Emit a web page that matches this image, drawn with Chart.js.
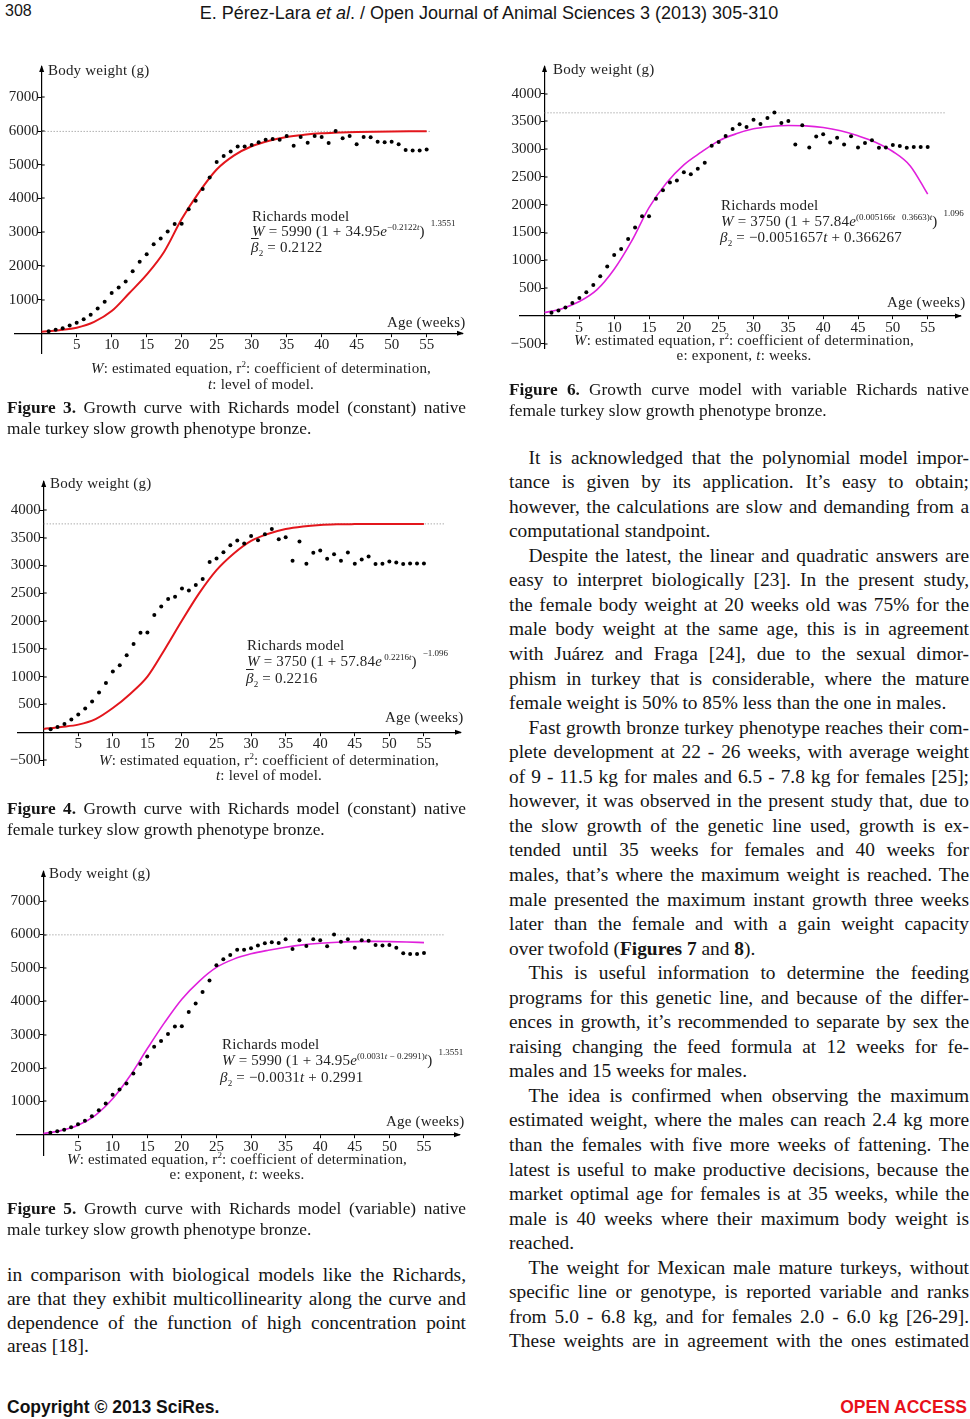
<!DOCTYPE html>
<html>
<head>
<meta charset="utf-8">
<title>Growth curves - Richards model</title>
<script src="https://cdn.jsdelivr.net/npm/chart.js@4.4.1/dist/chart.umd.min.js"></script>
<style>
  body { margin: 0; width: 970px; height: 1419px; position: relative; overflow: hidden; background: #fff;
         font-family: "Liberation Serif", "Times New Roman", serif; color: #151515; }
  canvas { position: absolute; }
  .sans { position: absolute; font-family: "Liberation Sans", Arial, sans-serif; white-space: nowrap; }
  .ln { position: absolute; text-align: justify; text-align-last: justify; box-sizing: border-box; }
  .ln.last { text-align-last: left; }
  .fig { position: absolute; font-size: 15px; line-height: 16px; white-space: nowrap; color: #222; letter-spacing: 0.2px; }
  .fig.c { text-align: center; width: 440px; }
  .s1 { font-size: 9px; position: relative; top: -6px; letter-spacing: 0; }
  .s2 { font-size: 9px; position: relative; top: -10px; margin-left: 6px; letter-spacing: 0; }
  .ob { text-decoration: overline; font-style: italic; }
  .sub { font-size: 9px; position: relative; top: 4px; }
</style>
</head>
<body>

<div class="sans" style="left:5px;top:2px;font-size:16px;">308</div>
<div class="sans" style="left:189px;top:3px;width:600px;text-align:center;font-size:18px;">E. Pérez-Lara <i>et al</i>. / Open Journal of Animal Sciences 3 (2013) 305-310</div>

<!-- Figure 3 -->
<canvas id="fig3" width="470" height="315" style="left:0;top:55px"></canvas>
<div class="fig" style="left:48px;top:62px">Body weight (g)</div>
<div class="fig" style="left:387px;top:314px">Age (weeks)</div>
<div class="fig" style="left:252px;top:208px">Richards model</div>
<div class="fig" style="left:252px;top:223px"><i>W</i> = 5990 (1 + 34.95<i>e</i><span class="s1">−0.2122<i>t</i></span>)<span class="s2">1.3551</span></div>
<div class="fig" style="left:251px;top:239px"><span class="ob">β</span><span class="sub">2</span> = 0.2122</div>
<div class="fig c" style="left:41px;top:360px"><i>W</i>: estimated equation, r<span class="s1">2</span>: coefficient of determination,</div>
<div class="fig c" style="left:41px;top:376px"><i>t</i>: level of model.</div>

<!-- Figure 4 -->
<canvas id="fig4" width="470" height="310" style="left:0;top:470px"></canvas>
<div class="fig" style="left:50px;top:475px">Body weight (g)</div>
<div class="fig" style="left:385px;top:709px">Age (weeks)</div>
<div class="fig" style="left:247px;top:637px">Richards model</div>
<div class="fig" style="left:247px;top:653px"><i>W</i> = 3750 (1 + 57.84<i>e</i><span class="s1"> 0.2216<i>t</i></span>)<span class="s2">−1.096</span></div>
<div class="fig" style="left:246px;top:670px"><span class="ob">β</span><span class="sub">2</span> = 0.2216</div>
<div class="fig c" style="left:49px;top:752px"><i>W</i>: estimated equation, r<span class="s1">2</span>: coefficient of determination,</div>
<div class="fig c" style="left:49px;top:767px"><i>t</i>: level of model.</div>

<!-- Figure 5 -->
<canvas id="fig5" width="470" height="310" style="left:0;top:860px"></canvas>
<div class="fig" style="left:49px;top:865px">Body weight (g)</div>
<div class="fig" style="left:386px;top:1113px">Age (weeks)</div>
<div class="fig" style="left:222px;top:1036px">Richards model</div>
<div class="fig" style="left:222px;top:1052px"><i>W</i> = 5990 (1 + 34.95<i>e</i><span class="s1">(0.0031<i>t</i> − 0.2991)<i>t</i></span>)<span class="s2">1.3551</span></div>
<div class="fig" style="left:220px;top:1069px"><i>β</i><span class="sub">2</span> = −0.0031<i>t</i> + 0.2991</div>
<div class="fig c" style="left:17px;top:1151px"><i>W</i>: estimated equation, r<span class="s1">2</span>: coefficient of determination,</div>
<div class="fig c" style="left:17px;top:1166px">e: exponent, <i>t</i>: weeks.</div>

<!-- Figure 6 -->
<canvas id="fig6" width="480" height="305" style="left:490px;top:55px"></canvas>
<div class="fig" style="left:553px;top:61px">Body weight (g)</div>
<div class="fig" style="left:887px;top:294px">Age (weeks)</div>
<div class="fig" style="left:721px;top:197px">Richards model</div>
<div class="fig" style="left:721px;top:213px"><i>W</i> = 3750 (1 + 57.84<i>e</i><span class="s1">(0.005166<i>t</i> &nbsp; 0.3663)<i>t</i></span>)<span class="s2">1.096</span></div>
<div class="fig" style="left:720px;top:229px"><i>β</i><span class="sub">2</span> = −0.0051657<i>t</i> + 0.366267</div>
<div class="fig c" style="left:524px;top:332px"><i>W</i>: estimated equation, r<span class="s1">2</span>: coefficient of determination,</div>
<div class="fig c" style="left:524px;top:347px">e: exponent, <i>t</i>: weeks.</div>

<div class="sans" style="left:7px;top:1397px;font-size:17.5px;font-weight:bold;color:#111;">Copyright © 2013 SciRes.</div>
<div class="sans" style="right:3px;top:1397px;font-size:17.5px;font-weight:bold;color:#e8101a;">OPEN ACCESS</div>

<div id="text"></div>

<script>
// ages (weeks) of the weighings
const weeks = [1, 2, 3, 4, 5, 6, 7, 8, 9, 10, 11, 12, 13, 14, 15, 16, 17, 18, 19, 20,
  21, 22, 23, 24, 25, 26, 27, 28, 29, 30, 31, 32, 33, 34, 35, 36, 37, 38, 39, 40,
  41, 42, 43, 44, 45, 46, 47, 48, 49, 50, 51, 52, 53, 54, 55];

// observed body weight (g)
const maleWeight = [65, 105, 150, 230, 315, 420, 555, 735, 940, 1200, 1360, 1540, 1840, 2120, 2345,
  2640, 2810, 3020, 3245, 3250, 3680, 3935, 4280, 4620, 5080, 5260, 5390, 5545, 5545, 5590,
  5670, 5740, 5765, 5745, 5855, 5565, 5825, 5655, 5855, 5825, 5645, 6000, 5785, 5855, 5605,
  5825, 5815, 5685, 5670, 5685, 5605, 5440, 5420, 5420, 5450];
const femaleWeight = [55, 95, 150, 230, 320, 425, 555, 715, 888, 1095, 1205, 1385, 1590, 1792, 1794,
  2110, 2262, 2400, 2437, 2585, 2550, 2650, 2758, 3062, 3128, 3240, 3365, 3450, 3398, 3532,
  3456, 3562, 3660, 3472, 3508, 3085, 3432, 3032, 3230, 3270, 3122, 3205, 3086, 3235, 3032,
  3110, 3162, 3026, 3032, 3074, 3056, 3026, 3038, 3038, 3038];

// fitted Richards curves read at these ages
const curveWeeks = [0, 2.5, 5, 7.5, 10, 12.5, 15, 17.5, 20, 22.5, 25, 27.5, 30, 32.5, 35, 37.5,
  40, 42.5, 45, 47.5, 50, 52.5, 55];
const maleConst = [50, 95, 168, 340, 660, 1190, 1740, 2420, 3390, 4190, 4860, 5280, 5550, 5715,
  5825, 5890, 5935, 5955, 5972, 5982, 5988, 5992, 5994];
const femaleConst = [60, 95, 137, 236, 435, 690, 1000, 1490, 2010, 2503, 2917, 3218, 3445, 3572,
  3658, 3705, 3731, 3742, 3746, 3748, 3750, 3750, 3750];
const maleVar = [40, 125, 287, 585, 1080, 1760, 2577, 3360, 4063, 4599, 5014, 5263, 5421, 5530,
  5620, 5690, 5738, 5770, 5788, 5795, 5788, 5775, 5758];
const femaleVar = [60, 130, 258, 468, 840, 1345, 1950, 2392, 2719, 2947, 3151, 3277, 3367, 3409,
  3427, 3421, 3391, 3331, 3241, 3127, 2959, 2700, 2191];

// dotted reference lines
const maleAsym = 5990;
const femaleAsym = 3750;
const femaleMax = 3655;

// tick labels
const weekTicks = [5, 10, 15, 20, 25, 30, 35, 40, 45, 50, 55];
const maleTicks = [1000, 2000, 3000, 4000, 5000, 6000, 7000];
const femaleTicks = [-500, 500, 1000, 1500, 2000, 2500, 3000, 3500, 4000];

Chart.defaults.font.family = '"Liberation Serif", "Times New Roman", serif';

const axisArrows = {
  id: 'axisArrows',
  afterDraw(chart) {
    const { ctx, chartArea: a, scales: { x, y } } = chart;
    const x0 = x.getPixelForValue(0), y0 = y.getPixelForValue(0);
    ctx.save();
    ctx.fillStyle = '#000';
    ctx.beginPath();
    ctx.moveTo(x0, a.top - 2); ctx.lineTo(x0 - 2.5, a.top + 5); ctx.lineTo(x0 + 2.5, a.top + 5);
    ctx.fill();
    ctx.beginPath();
    ctx.moveTo(a.right + 2, y0); ctx.lineTo(a.right - 5, y0 - 2.5); ctx.lineTo(a.right - 5, y0 + 2.5);
    ctx.fill();
    // little marks on the right side of the y axis too
    y.ticks.forEach(t => {
      const py = Math.round(y.getPixelForValue(t.value));
      ctx.fillRect(x0, py - 0.5, 3, 1);
    });
    ctx.restore();
  }
};

function fmt(v) {
  return v < 0 ? '\u2212' + Math.abs(v) : String(v);
}

function growthChart(id, o) {
  const pts = weeks.map((t, i) => ({ x: t, y: o.obs[i] }));
  const curve = curveWeeks.map((t, i) => ({ x: t, y: o.curve[i] }));

  new Chart(document.getElementById(id), {
    type: 'scatter',
    data: {
      datasets: [
        { data: pts, pointRadius: 2, pointBackgroundColor: '#000', pointBorderWidth: 0 },
        { data: curve, showLine: true, borderColor: o.color, borderWidth: o.lw, pointRadius: 0,
          cubicInterpolationMode: 'monotone' },
        { data: [{ x: 0, y: o.asym }, { x: o.asymEnd, y: o.asym }], showLine: true, pointRadius: 0,
          borderColor: '#888', borderWidth: 1, borderDash: [1, 2] }
      ]
    },
    options: {
      responsive: false,
      animation: false,
      events: [],
      layout: { padding: o.pad, autoPadding: false },
      plugins: { legend: { display: false }, tooltip: { enabled: false } },
      scales: {
        x: {
          type: 'linear', min: o.x[0], max: o.x[1], position: { y: 0 },
          afterFit: s => { s.height = 0; },
          afterBuildTicks: s => { s.ticks = weekTicks.map(v => ({ value: v })); },
          grid: { drawOnChartArea: false, tickLength: 3, color: '#000', lineWidth: 1 },
          border: { color: '#000', width: 1.2 },
          ticks: { font: { size: 15 }, color: '#222', padding: 0, maxRotation: 0, autoSkip: false, callback: fmt }
        },
        y: {
          type: 'linear', min: o.y[0], max: o.y[1], position: { x: 0 },
          afterFit: s => { s.width = 0; },
          afterBuildTicks: s => { s.ticks = o.yTicks.map(v => ({ value: v })); },
          grid: { drawOnChartArea: false, tickLength: 3, color: '#000', lineWidth: 1 },
          border: { color: '#000', width: 1.2 },
          // labels sit flush on the axis here, so a thin space keeps them off it
          ticks: { font: { size: 15 }, color: '#222', autoSkip: false, callback: v => fmt(v) + '\u2009' }
        }
      }
    },
    plugins: [axisArrows]
  });
}

growthChart('fig3', { obs: maleWeight, curve: maleConst, color: '#e3161c', lw: 2, asym: maleAsym, asymEnd: 55.5,
  pad: { left: 15, right: 8, top: 12, bottom: 17 }, x: [-3.81, 60.05], y: [-583, 7900], yTicks: maleTicks });
growthChart('fig4', { obs: femaleWeight, curve: femaleConst, color: '#e3161c', lw: 2, asym: femaleAsym, asymEnd: 58,
  pad: { left: 18, right: 10, top: 9, bottom: 15 }, x: [-3.72, 60.22], y: [-590, 4504], yTicks: femaleTicks });
growthChart('fig5', { obs: maleWeight, curve: maleVar, color: '#e020dc', lw: 1.6, asym: maleAsym, asymEnd: 58,
  pad: { left: 17, right: 11, top: 10, bottom: 15 }, x: [-3.82, 60.06], y: [-605, 7873], yTicks: maleTicks });
growthChart('fig6', { obs: femaleWeight, curve: femaleVar, color: '#e020dc', lw: 1.6, asym: femaleMax, asymEnd: 57.5,
  pad: { left: 30, right: 10, top: 12, bottom: 12 }, x: [-3.52, 59.64], y: [-578, 4480], yTicks: femaleTicks });

// running text, one entry per printed line ('p' = paragraph start, 'e' = paragraph end)
const captions = [
  { left: 7, top: 396.6, width: 459, lines: [['<b>Figure 3.</b> Growth curve with Richards model (constant) native'], ['male turkey slow growth phenotype bronze.', 'e']] },
  { left: 7, top: 798.3, width: 459, lines: [['<b>Figure 4.</b> Growth curve with Richards model (constant) native'], ['female turkey slow growth phenotype bronze.', 'e']] },
  { left: 7, top: 1197.6, width: 459, lines: [['<b>Figure 5.</b> Growth curve with Richards model (variable) native'], ['male turkey slow growth phenotype bronze.', 'e']] },
  { left: 509, top: 379.3, width: 460, lines: [['<b>Figure 6.</b> Growth curve model with variable Richards native'], ['female turkey slow growth phenotype bronze.', 'e']] }
];

const leftText = [
  ['in comparison with biological models like the Richards,'],
  ['are that they exhibit multicollinearity along the curve and'],
  ['dependence of the function of high concentration point'],
  ['areas [18].', 'e']
];

const rightText = [
  ['It is acknowledged that the polynomial model impor-', 'p'],
  ['tance is given by its application. It’s easy to obtain;'],
  ['however, the calculations are slow and demanding from a'],
  ['computational standpoint.', 'e'],
  ['Despite the latest, the linear and quadratic answers are', 'p'],
  ['easy to interpret biologically [23]. In the present study,'],
  ['the female body weight at 20 weeks old was 75% for the'],
  ['male body weight at the same age, this is in agreement'],
  ['with Juárez and Fraga [24], due to the sexual dimor-'],
  ['phism in turkey that is considerable, where the mature'],
  ['female weight is 50% to 85% less than the one in males.', 'e'],
  ['Fast growth bronze turkey phenotype reaches their com-', 'p'],
  ['plete development at 22 - 26 weeks, with average weight'],
  ['of 9 - 11.5 kg for males and 6.5 - 7.8 kg for females [25];'],
  ['however, it was observed in the present study that, due to'],
  ['the slow growth of the genetic line used, growth is ex-'],
  ['tended until 35 weeks for females and 40 weeks for'],
  ['males, that’s where the maximum weight is reached. The'],
  ['male presented the maximum instant growth three weeks'],
  ['later than the female and with a gain weight capacity'],
  ['over twofold (<b>Figures 7</b> and <b>8</b>).', 'e'],
  ['This is useful information to determine the feeding', 'p'],
  ['programs for this genetic line, and because of the differ-'],
  ['ences in growth, it’s recommended to separate by sex the'],
  ['raising changing the feed formula at 12 weeks for fe-'],
  ['males and 15 weeks for males.', 'e'],
  ['The idea is confirmed when observing the maximum', 'p'],
  ['estimated weight, where the males can reach 2.4 kg more'],
  ['than the females with five more weeks of fattening. The'],
  ['latest is useful to make productive decisions, because the'],
  ['market optimal age for females is at 35 weeks, while the'],
  ['male is 40 weeks where their maximum body weight is'],
  ['reached.', 'e'],
  ['The weight for Mexican male mature turkeys, without', 'p'],
  ['specific line or genotype, is reported variable and ranks'],
  ['from 5.0 - 6.8 kg, and for females 2.0 - 6.0 kg [26-29].'],
  ['These weights are in agreement with the ones estimated']
];

function placeLines(lines, left, top, width, lh, size) {
  const box = document.getElementById('text');
  lines.forEach((l, i) => {
    const d = document.createElement('div');
    d.className = 'ln' + (l[1] === 'e' ? ' last' : '');
    d.style.left = left + 'px';
    d.style.top = (top + i * lh) + 'px';
    d.style.width = width + 'px';
    d.style.fontSize = size + 'px';
    d.style.lineHeight = lh + 'px';
    if (l[1] === 'p') d.style.paddingLeft = '19.5px';
    d.innerHTML = l[0];
    box.appendChild(d);
  });
}

captions.forEach(c => placeLines(c.lines, c.left, c.top, c.width, 21, 17.3));
placeLines(leftText, 7, 1263.4, 459, 23.67, 19.4);
placeLines(rightText, 509, 445.6, 460, 24.55, 19.4);
</script>
</body>
</html>
